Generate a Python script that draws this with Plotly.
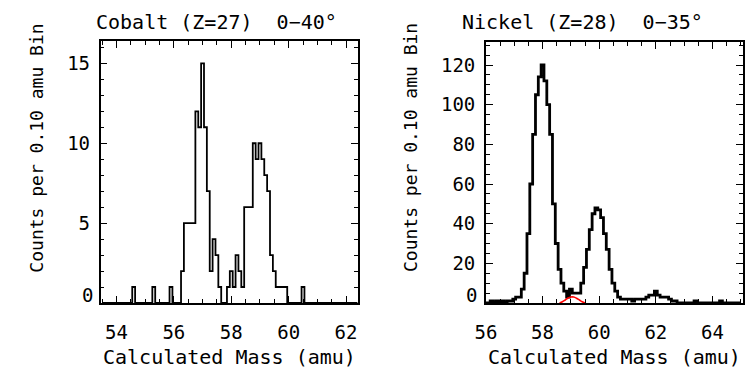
import plotly.graph_objects as go

# ---------------- data ----------------
co_mass = [round(53.5 + 0.1 * i, 1) for i in range(90)]  # bin centres 53.5 .. 62.4
co_counts_map = {
    54.6: 1, 55.3: 1, 55.9: 1, 56.3: 2, 56.4: 5, 56.5: 5, 56.6: 5, 56.7: 5,
    56.8: 12, 56.9: 11, 57.0: 15, 57.1: 11, 57.2: 7, 57.3: 2, 57.4: 4, 57.5: 3,
    57.6: 1, 57.7: 0, 57.8: 0, 57.9: 1, 58.0: 2, 58.1: 1, 58.2: 3, 58.3: 2,
    58.4: 1, 58.5: 6, 58.6: 6, 58.7: 6, 58.8: 10, 58.9: 9, 59.0: 10, 59.1: 9,
    59.2: 8, 59.3: 7, 59.4: 3, 59.5: 2, 59.6: 1, 59.7: 1, 59.8: 1, 59.9: 1,
    60.5: 1,
}
co_counts = [co_counts_map.get(m, 0) for m in co_mass]

ni_mass = [round(56.0 + 0.1 * i, 1) for i in range(91)]  # 56.0 .. 65.0
ni_counts = [
    0, 0, 1, 0, 1, 0, 1, 0, 1, 1,          # 56.0-56.9
    2, 3, 3, 7, 15, 35, 60, 85, 105, 114,  # 57.0-57.9
    120, 112, 100, 85, 50, 30, 17, 10, 6, 3,  # 58.0-58.9
    7, 5, 5, 5, 10, 18, 27, 37, 45, 48,    # 59.0-59.9
    47, 43, 35, 27, 17, 10, 6, 3, 2, 2,    # 60.0-60.9
    2, 2, 1, 2, 2, 2, 2, 3, 4, 4,          # 61.0-61.9
    6, 4, 3, 3, 3, 2, 1, 1, 0, 0,          # 62.0-62.9
    0, 0, 0, 0, 1, 0, 0, 0, 0, 0,          # 63.0-63.9
    0, 0, 0, 1, 0, 0, 0, 0, 0, 0,          # 64.0-64.9
    0,                                     # 65.0
]

fit_mass = [58.6, 58.7, 58.8, 58.9, 59.0, 59.1, 59.2, 59.3, 59.4, 59.5]
fit_counts = [0.0, 0.6, 1.5, 2.5, 3.0, 3.0, 2.4, 1.5, 0.6, 0.0]

co_yticks = [0, 5, 10, 15]
ni_yticks = [0, 20, 40, 60, 80, 100, 120]
co_xticks = [54, 56, 58, 60, 62]
ni_xticks = [56, 58, 60, 62, 64]

left_title = "Cobalt (Z=27)  0\u221240\u00b0"
right_title = "Nickel (Z=28)  0\u221235\u00b0"
ylab = "Counts per 0.10 amu Bin"
xlab = "Calculated Mass (amu)"

# ---------------- figure ----------------
W, H = 748, 374
FONT = "DejaVu Sans Mono"
TICKSIZE = 19

fig = go.Figure()
fig.add_trace(go.Scatter(x=co_mass, y=co_counts, mode="lines", line_shape="hvh",
                         line=dict(color="black", width=1.8), xaxis="x", yaxis="y",
                         showlegend=False))
fig.add_trace(go.Scatter(x=ni_mass, y=ni_counts, mode="lines", line_shape="hvh",
                         line=dict(color="black", width=2.8), xaxis="x2", yaxis="y2",
                         showlegend=False))
fig.add_trace(go.Scatter(x=fit_mass, y=fit_counts, mode="lines", line_shape="spline",
                         line=dict(color="#ff0000", width=1.6), xaxis="x2", yaxis="y2",
                         showlegend=False))

def px(x):
    return x / W

def py(y):
    return 1 - y / H

common = dict(showline=True, linecolor="black", linewidth=1.6, mirror="ticks",
              ticks="inside", tickcolor="black", showgrid=False, zeroline=False,
              tickfont=dict(family=FONT, size=TICKSIZE, color="black"))

def ytext(vals):
    return ["" if v == 0 else str(v) for v in vals]

fig.update_layout(
    width=W, height=H, autosize=False,
    margin=dict(l=0, r=0, t=0, b=0),
    paper_bgcolor="white", plot_bgcolor="white",
    xaxis=dict(domain=[px(91), px(352)], range=[53.45, 62.41], anchor="y",
               tickvals=co_xticks, ticklen=7, tickwidth=1.2,
               minor=dict(dtick=0.5, tick0=54, ticklen=4, ticks="inside", tickcolor="black"),
               ticklabelstandoff=11, **common),
    yaxis=dict(domain=[py(303), py(41)], range=[0, 16.4], anchor="x",
               tickvals=co_yticks, ticktext=ytext(co_yticks), ticklen=7, tickwidth=1.2,
               minor=dict(dtick=1, tick0=0, ticklen=4, ticks="inside", tickcolor="black"),
               ticklabelstandoff=5, **common),
    xaxis2=dict(domain=[px(482), px(743)], range=[56, 65.08], anchor="y2",
                tickvals=ni_xticks, ticklen=7, tickwidth=1.2,
                minor=dict(dtick=0.5, tick0=56, ticklen=4, ticks="inside", tickcolor="black"),
                ticklabelstandoff=11, **common),
    yaxis2=dict(domain=[py(303), py(42)], range=[0, 131.6], anchor="x2",
                tickvals=ni_yticks, ticktext=ytext(ni_yticks), ticklen=7, tickwidth=1.2,
                minor=dict(dtick=5, tick0=0, ticklen=4, ticks="inside", tickcolor="black"),
                ticklabelstandoff=5, **common),
)

ann_font = dict(family=FONT, size=20, color="black")
yt_font = dict(family=FONT, size=18, color="black")
anns = [
    dict(text=left_title, x=px(84), y=py(22), xanchor="left", yanchor="middle", font=ann_font),
    dict(text=right_title, x=px(456), y=py(22), xanchor="left", yanchor="middle", font=ann_font),
    dict(text=xlab, x=px(222), y=py(357), xanchor="center", yanchor="middle", font=ann_font),
    dict(text=xlab, x=px(612), y=py(357), xanchor="center", yanchor="middle", font=ann_font),
    dict(text=ylab, x=px(25), y=py(148), xanchor="center", yanchor="middle", textangle=-90, font=yt_font),
    dict(text=ylab, x=px(405), y=py(148), xanchor="center", yanchor="middle", textangle=-90, font=yt_font),
]
for a in anns:
    fig.add_annotation(xref="paper", yref="paper", showarrow=False, **a)
# zero labels of the count axes sit slightly above the axis in the original
fig.add_annotation(xref="paper", yref="paper", showarrow=False, text="0",
                   x=px(85), y=py(295), xanchor="right", yanchor="middle",
                   font=dict(family=FONT, size=TICKSIZE, color="black"))
fig.add_annotation(xref="paper", yref="paper", showarrow=False, text="0",
                   x=px(475), y=py(295), xanchor="right", yanchor="middle",
                   font=dict(family=FONT, size=TICKSIZE, color="black"))

fig.write_html("out.html")
